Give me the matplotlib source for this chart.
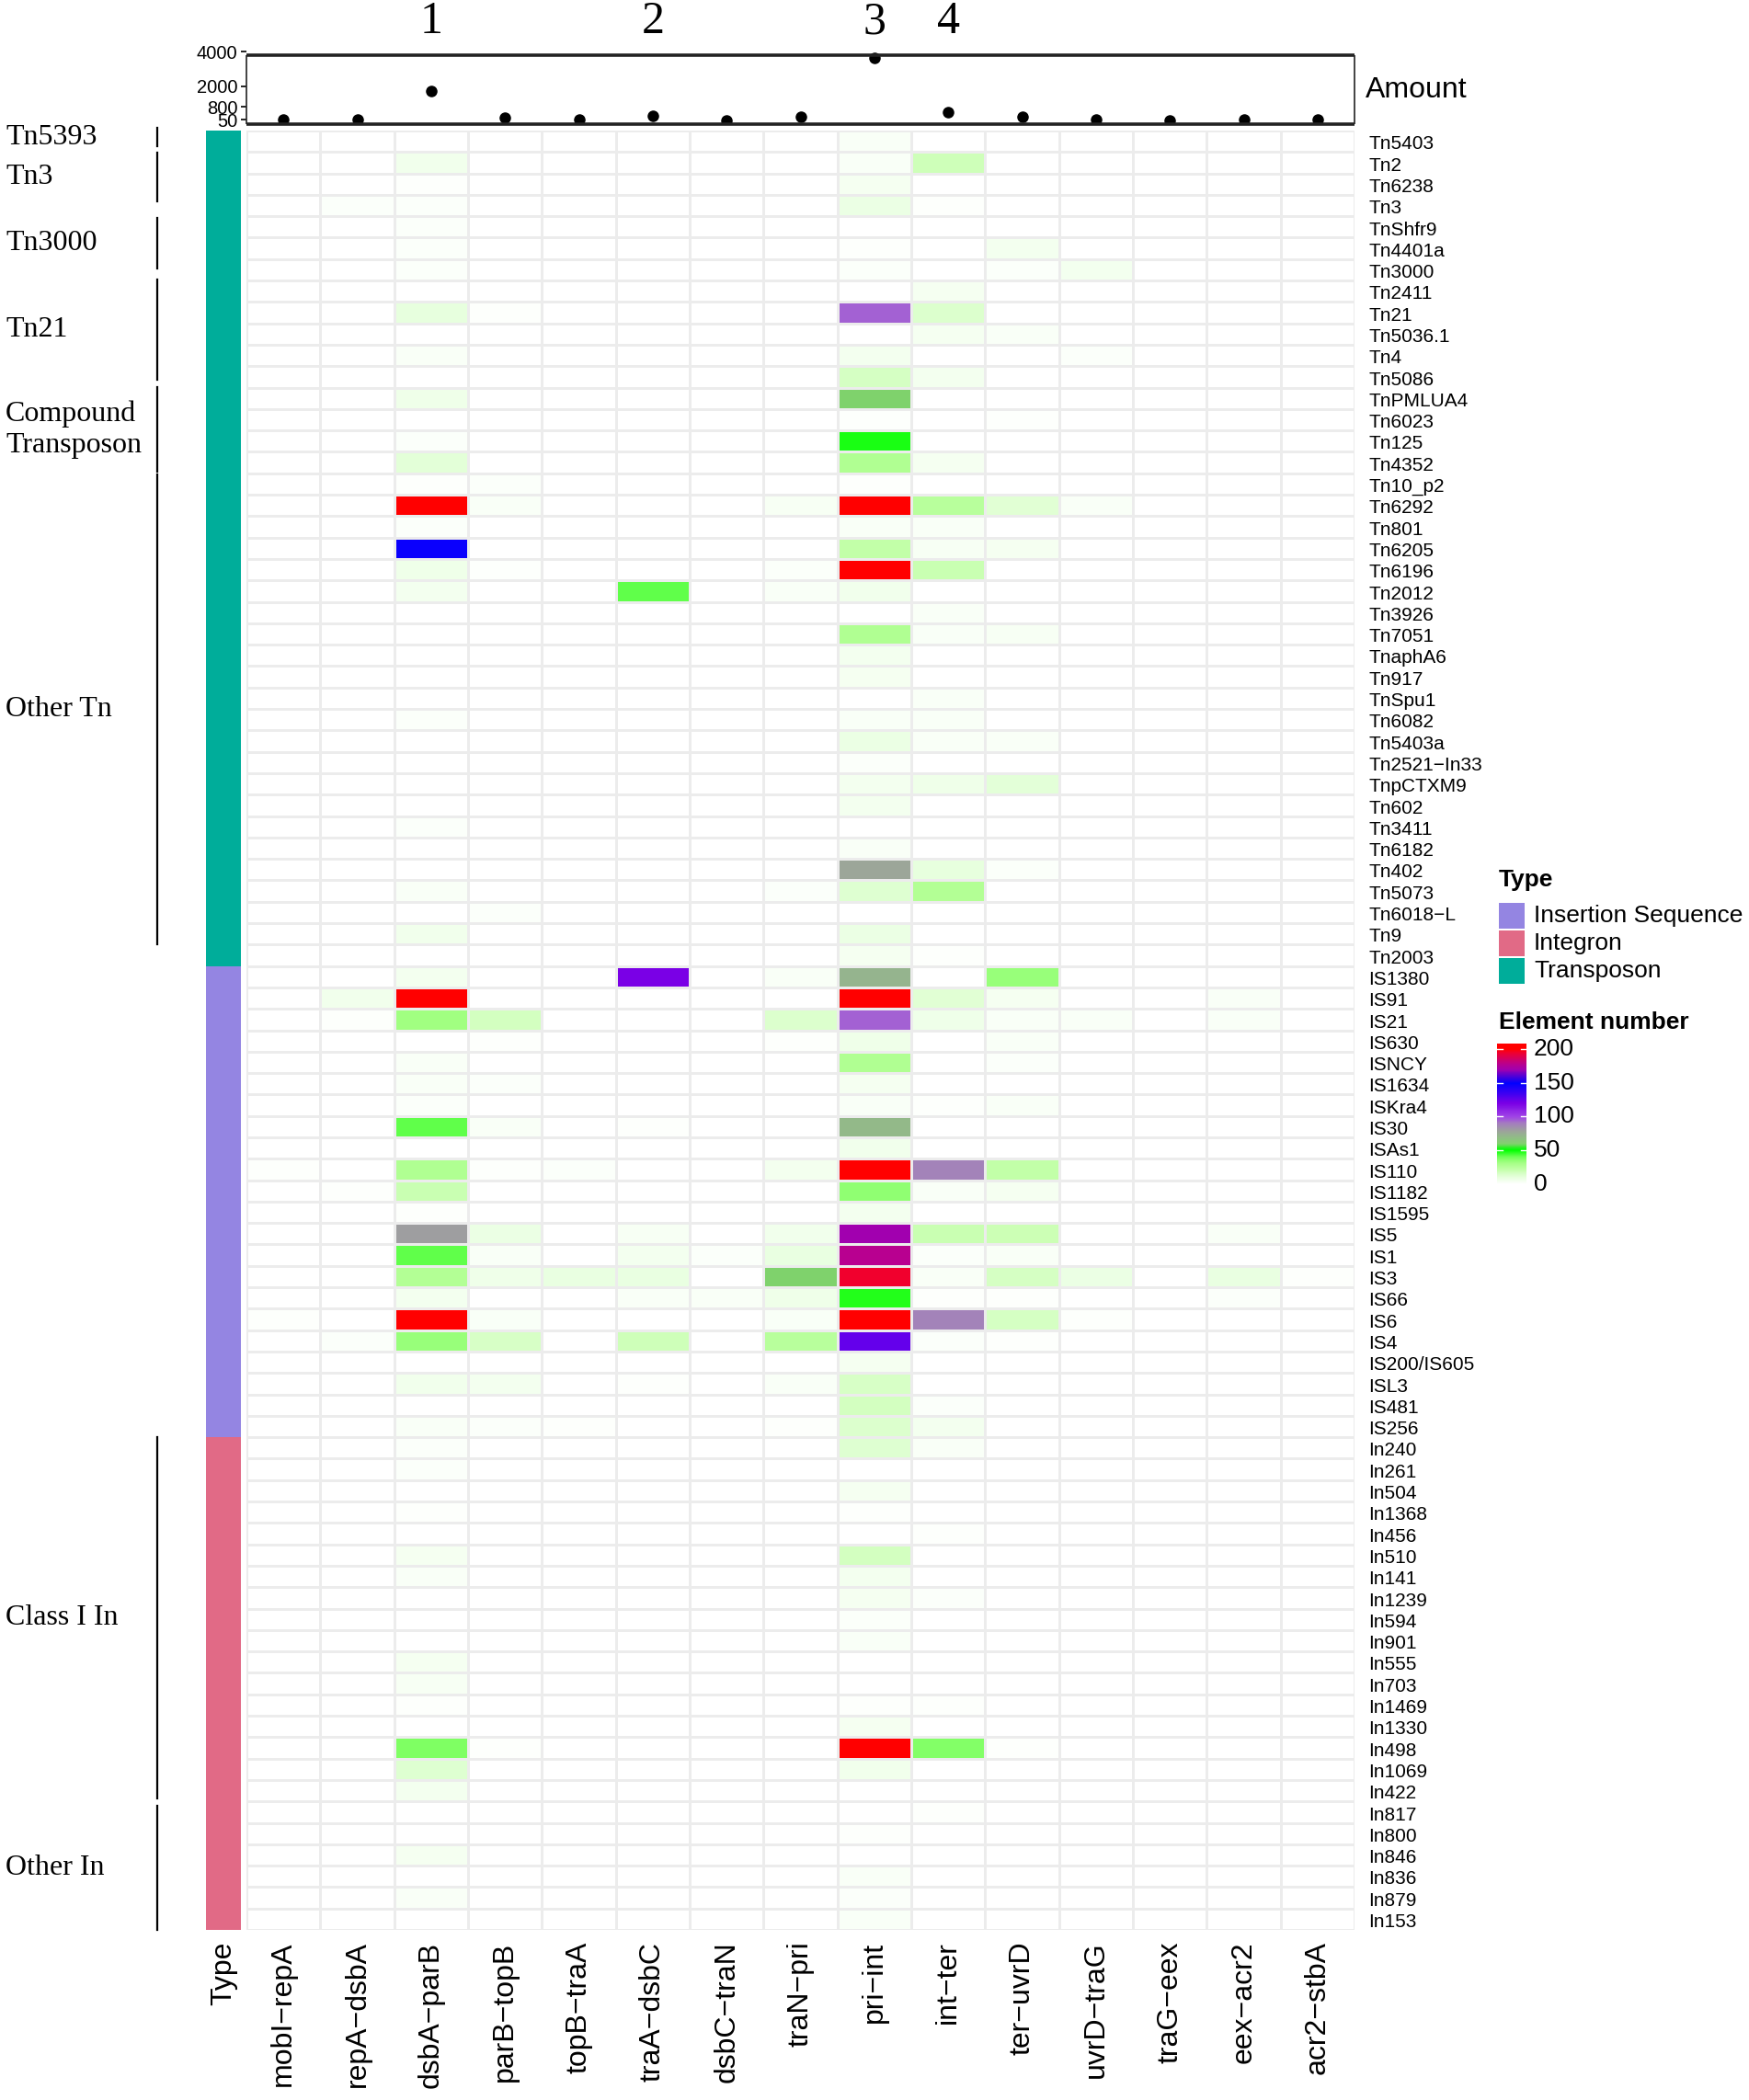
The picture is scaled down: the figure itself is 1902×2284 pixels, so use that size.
import numpy as np
import matplotlib
matplotlib.use('Agg')
import matplotlib.pyplot as plt
from matplotlib.colors import LinearSegmentedColormap, ListedColormap
from matplotlib.lines import Line2D
from matplotlib.patches import Rectangle

plt.rcParams['font.family'] = ['Liberation Sans', 'DejaVu Sans']

W, H = 1902, 2284

columns = ['mobI−repA', 'repA−dsbA', 'dsbA−parB', 'parB−topB', 'topB−traA',
           'traA−dsbC', 'dsbC−traN', 'traN−pri', 'pri−int', 'int−ter',
           'ter−uvrD', 'uvrD−traG', 'traG−eex', 'eex−acr2', 'acr2−stbA']

amount = [35, 35, 1700, 145, 40, 290, 30, 200, 3650, 480, 240, 50, 30, 50, 35]
amount_ticks = [50, 800, 2000, 4000]
numbered = {2: '1', 5: '2', 8: '3', 9: '4'}

tn_names = ['Tn5403', 'Tn2', 'Tn6238', 'Tn3', 'TnShfr9', 'Tn4401a', 'Tn3000', 'Tn2411',
            'Tn21', 'Tn5036.1', 'Tn4', 'Tn5086', 'TnPMLUA4', 'Tn6023', 'Tn125', 'Tn4352',
            'Tn10_p2', 'Tn6292', 'Tn801', 'Tn6205', 'Tn6196', 'Tn2012', 'Tn3926', 'Tn7051',
            'TnaphA6', 'Tn917', 'TnSpu1', 'Tn6082', 'Tn5403a', 'Tn2521−In33', 'TnpCTXM9',
            'Tn602', 'Tn3411', 'Tn6182', 'Tn402', 'Tn5073', 'Tn6018−L', 'Tn9', 'Tn2003']
is_names = ['IS1380', 'IS91', 'IS21', 'IS630', 'ISNCY', 'IS1634', 'ISKra4', 'IS30', 'ISAs1',
            'IS110', 'IS1182', 'IS1595', 'IS5', 'IS1', 'IS3', 'IS66', 'IS6', 'IS4',
            'IS200/IS605', 'ISL3', 'IS481', 'IS256']
in_names = ['In240', 'In261', 'In504', 'In1368', 'In456', 'In510', 'In141', 'In1239', 'In594',
            'In901', 'In555', 'In703', 'In1469', 'In1330', 'In498', 'In1069', 'In422', 'In817',
            'In800', 'In846', 'In836', 'In879', 'In153']

# element number per row, column order as in columns
tn_values = [
    [0, 0, 0, 0, 0, 0, 0, 0, 3, 0, 0, 0, 0, 0, 0],
    [0, 0, 6, 0, 0, 0, 0, 0, 3, 18, 0, 0, 0, 0, 0],
    [0, 0, 1, 0, 0, 0, 0, 0, 4, 0, 0.5, 0, 0, 0, 0],
    [0, 2, 2, 0, 0, 0, 0, 0, 8, 1, 0, 0, 0, 0, 0],
    [0, 0, 2, 0, 0, 0, 0, 0, 0, 0, 0, 0, 0, 0, 0],
    [0, 0, 2, 0, 0, 0, 0, 0, 1.5, 0, 5, 0, 0, 0, 0],
    [0, 0, 2, 0, 0, 0, 0, 0, 2, 0, 2, 5, 0, 0, 0],
    [0, 0, 0, 0, 0, 0, 0, 0, 0, 4, 0, 0, 0, 0, 0],
    [0, 0, 10, 1.5, 0, 0, 0, 0, 95, 14, 0, 0, 0, 0, 0],
    [0, 0, 0, 0, 0, 0, 0, 0, 0.5, 4, 3, 0, 0, 0, 0],
    [0, 0, 3, 0, 0, 0, 0, 0, 5, 0, 0, 2, 0, 0, 0],
    [0, 0, 0, 0, 0, 0, 0, 0, 16, 5, 0, 0, 0, 0, 0],
    [0, 0, 7, 0, 0, 0, 0, 0, 60, 0, 0, 0, 0, 0, 0],
    [0, 0, 0, 0, 0, 0, 0, 0, 1.5, 0, 1.5, 0, 0, 0, 0],
    [0, 0, 2, 0, 0, 0, 0, 0, 48, 0, 0, 0, 0, 0, 0],
    [0, 0, 11, 0, 0, 0, 0, 0, 28, 4, 0, 0, 0, 0, 0],
    [0, 0, 1, 2, 0, 0, 0, 0, 1.5, 0, 0, 0, 0, 0, 0],
    [0, 0, 200, 2.5, 0, 0, 0, 3.5, 200, 25, 12, 3, 0, 0.5, 0],
    [0, 0, 2, 0, 0, 0, 0, 0, 3, 2.5, 0, 0, 0, 0, 0],
    [0, 0, 147, 0, 0, 0, 0, 0, 22, 3.5, 4, 0, 0, 0, 0],
    [0, 0, 7, 1, 0, 0, 0, 2, 200, 20, 0, 0, 0, 0, 0],
    [0, 0, 5, 0, 0, 42, 0, 3, 6, 0, 0.5, 0, 0, 0.5, 0],
    [0, 0, 0, 0, 0, 0, 0, 0, 0, 2.5, 0, 0, 0, 0, 0],
    [0, 0, 0.5, 0, 0, 0, 0, 0, 28, 2.5, 3.5, 0, 0, 0, 0],
    [0, 0, 0, 0, 0, 0, 0, 0, 5, 0, 0, 0, 0, 0, 0],
    [0, 0, 0, 0, 0, 0, 0, 0, 4.5, 0, 0, 0, 0, 0, 0],
    [0, 0, 0, 0, 0, 0, 0, 0, 0, 3, 0.5, 0, 0, 0, 0],
    [0, 0, 2, 0, 0, 0, 0, 0, 3, 3, 0, 0, 0, 0, 0],
    [0, 0, 0, 0, 0, 0, 0, 0, 8, 2.5, 2.5, 0.5, 0, 0, 0],
    [0, 0, 0, 0, 0, 0, 0, 0, 2, 0, 0, 0, 0, 0, 0],
    [0, 0, 0.5, 0, 0, 0, 0, 0, 5, 7, 11, 0, 0, 0, 0],
    [0, 0, 0, 0, 0, 0, 0, 0, 5, 0, 0, 0, 0, 0, 0],
    [0, 0, 2, 0.7, 0, 0, 0, 0.4, 0, 0, 0, 0, 0, 0.4, 0],
    [0, 0, 0, 0, 0, 0, 0, 0, 3, 0, 0, 0, 0, 0, 0],
    [0, 0, 0, 0, 0, 0, 0, 0, 78, 10, 2, 0, 0, 0, 0],
    [0, 0, 3, 0, 0, 0, 0, 2, 13, 27, 0, 0, 0, 0, 0],
    [0, 0, 0, 2, 0, 0, 0, 0, 0, 0, 0.4, 0, 0, 0, 0],
    [0, 0, 6, 0, 0, 0, 0, 0, 8, 0, 0, 0, 0, 0, 0],
    [0, 0, 0, 0, 0, 0, 0, 0, 4.5, 1.5, 0, 0, 0, 0, 0],
]
is_values = [
    [0, 0, 5, 0, 0, 120, 0, 3, 72, 0, 33, 0, 0, 0, 0],
    [0, 6, 200, 0.5, 0, 0, 0, 0, 200, 12, 4, 0.5, 0, 3, 0],
    [0, 1, 32, 17, 0, 0, 0, 14, 95, 7, 3, 3, 0, 2.5, 0],
    [0, 0, 0.5, 1, 0, 0, 0.5, 1.5, 7, 0, 2.5, 0, 0, 0, 0],
    [0, 0, 2.5, 0, 0, 0, 0, 0, 28, 0, 2, 0, 0, 0, 0],
    [0, 0, 3, 2, 0, 0, 0, 0, 4, 0, 0, 0, 0, 0, 0],
    [0, 0, 2, 0, 0, 0, 0, 0, 3, 1.5, 3, 0, 0, 0, 0],
    [0, 0, 42, 3, 0, 1.5, 0, 0, 70, 0, 0, 0, 0, 0, 0],
    [0, 0, 0.5, 0, 0, 0, 0, 0.4, 6, 0, 0, 0, 0, 0, 0],
    [1, 0, 28, 1.5, 2, 0, 0, 5, 200, 88, 22, 0, 0, 0, 0],
    [0, 1.5, 20, 0.5, 0, 0, 0, 0, 35, 2.5, 4.5, 0, 0, 0, 0],
    [0, 0, 1, 0.5, 0, 0, 0, 0, 5, 0, 0, 0, 0, 0, 0],
    [0, 0, 80, 8, 0, 3.5, 0, 5.5, 170, 20, 19, 0, 0, 2.5, 0],
    [0, 0, 42, 3, 0, 5, 2, 9, 178, 2, 2.5, 0, 0, 0, 0],
    [0, 0.5, 27, 7, 9, 9, 0.7, 60, 195, 3, 16, 8, 0, 9, 1],
    [0, 0, 5, 0, 0, 2.5, 2.5, 7, 47, 1.5, 1.5, 0, 0, 2, 0],
    [1, 0, 200, 2.5, 0, 0, 0, 3, 200, 88, 16, 1.5, 0, 0, 0],
    [0, 2, 33, 15, 0, 18, 0, 25, 125, 2, 1.5, 0, 0, 0, 0],
    [0, 0, 0, 0, 0, 0, 0, 0, 4, 0, 0, 0, 0, 0, 0],
    [0, 0, 6, 5, 0, 1, 0, 3, 15, 0, 0, 0, 0, 0, 0],
    [0, 0, 0, 0, 0, 0, 0, 0, 17, 2, 0, 0, 0, 0, 0],
    [0, 0, 3, 2, 1, 0, 0, 1.5, 14, 5, 0, 0, 0, 0, 0],
]
in_values = [
    [0, 0, 2, 0, 0, 0, 0, 0, 13, 2.5, 0, 0, 0, 0, 0],
    [0, 0, 2, 0, 0, 0, 0, 0, 0, 0, 0, 0, 0, 0, 0],
    [0, 0, 0, 0, 0, 0, 0, 0, 4.5, 0, 0, 0, 0, 0, 0],
    [0, 0, 1.5, 0, 0, 0, 0, 0, 1.5, 0, 0, 0, 0, 0, 0],
    [0, 0, 0, 0, 0, 0, 0, 0, 0, 1, 0, 0, 0, 0, 0],
    [0, 0, 4.5, 0, 0, 0, 0, 0, 17, 0, 0, 0, 0, 0, 0],
    [0, 0, 3, 0, 0, 0, 0, 0.4, 5, 0, 0, 0, 0, 0, 0],
    [0, 0, 0, 0, 0, 0, 0, 0, 4, 2, 0, 0, 0, 0, 0],
    [0, 0, 0, 0, 0, 0, 0, 0, 2, 0, 0, 0, 0, 0, 0],
    [0, 0, 0, 0, 0, 0, 0, 0, 2.5, 0, 0, 0, 0, 0, 0],
    [0, 0, 4, 0, 0, 0, 0, 0, 0, 0, 0, 0, 0, 0, 0],
    [0, 0, 3.5, 0, 0, 0, 0, 0, 0, 0, 0, 0, 0, 0, 0],
    [0, 0, 1.5, 0, 0, 0, 0, 0, 1.5, 1.5, 0, 0, 0, 0, 0],
    [0, 0, 0, 0, 0, 0, 0, 0, 4, 0, 0, 0, 0, 0, 0],
    [0, 0, 38, 1, 0, 0, 0, 0, 200, 37, 1, 0, 0, 0, 0],
    [0, 0, 13, 0, 0, 0, 0, 0, 5.5, 0, 0, 0, 0, 0, 0],
    [0, 0, 5, 0, 0, 0, 0, 0, 0, 0, 0, 0, 0, 0, 0],
    [0, 0, 0, 0, 0, 0, 0, 0, 0, 1.2, 0.4, 0, 0, 0, 0],
    [0, 0, 0, 0, 0, 0, 0, 0.4, 1, 0, 0, 0, 0, 0, 0],
    [0, 0, 4, 0, 0, 0, 0, 0, 0, 0, 0, 0, 0, 0, 0],
    [0, 0, 0, 0, 0, 0, 0, 0, 3, 0, 0, 0, 0, 0, 0],
    [0, 0, 3, 0, 0, 0, 0, 0, 2, 0, 0.3, 0, 0, 0, 0],
    [0, 0, 0, 0, 0, 0, 0, 0, 3, 0, 0, 0, 0, 0, 0],
]

row_names = tn_names + is_names + in_names
values = np.array(tn_values + is_values + in_values, dtype=float)

type_labels = ['Insertion Sequence', 'Integron', 'Transposon']
type_colors = ['#9485E2', '#E16A86', '#00AD9A']
row_types = [2] * len(tn_names) + [0] * len(is_names) + [1] * len(in_names)

# group brackets on the far left: first row, last row (fractions of a row), text
groups = [('Tn5393', -0.13, 0.74), ('Tn3', 1.03, 3.29), ('Tn3000', 4.08, 6.43),
          ('Tn21', 6.95, 11.62), ('Compound\nTransposon', 11.98, 15.93),
          ('Other Tn', 16.05, 37.97), ('Class I In', 61.0, 77.87), ('Other In', 78.2, 84.0)]

level_stops = [0, 10, 20, 30, 40, 50, 60, 70, 78, 90, 100, 120, 150, 170, 178, 195, 200]
level_colors = ['#ffffff', '#e6ffdc', '#c8ffb0', '#a8ff88', '#72ff58', '#00ff00', '#84d070',
                '#93b98a', '#9ca59a', '#a57cc0', '#a044e6', '#7a00e6', '#0000ff', '#a000b0',
                '#b80090', '#f00030', '#ff0000']
level_cmap = LinearSegmentedColormap.from_list('levels', [(v / 200, c) for v, c in zip(level_stops, level_colors)])


def axes_px(x0, y0, x1, y1):
    # pixel box, measured from the top left of the picture
    return fig.add_axes([x0 / W, 1 - y1 / H, (x1 - x0) / W, (y1 - y0) / H])


fig = plt.figure(figsize=(W / 100, H / 100), dpi=100)

n_rows, n_cols = values.shape

# heatmap
ax = axes_px(268, 142, 1473, 2099)
ax.pcolormesh(np.arange(n_cols + 1), np.arange(n_rows + 1), values, cmap=level_cmap, vmin=0, vmax=200,
              edgecolors='#ececec', linewidth=0.9)
ax.set_xlim(0, n_cols)
ax.set_ylim(n_rows, 0)
for s in ax.spines.values():
    s.set_visible(False)
ax.yaxis.tick_right()
ax.set_yticks(np.arange(n_rows) + 0.55)
ax.set_yticklabels(row_names, fontsize=15)
ax.set_xticks(np.arange(n_cols) + 0.5)
ax.set_xticklabels(columns, fontsize=23, rotation=90)
ax.tick_params(length=0, pad=9, axis='x')
ax.tick_params(length=0, pad=11, axis='y')

# annotation strip
ax_type = axes_px(224, 142, 262, 2099)
ax_type.pcolormesh([0, 1], np.arange(n_rows + 1), np.array(row_types)[:, None], cmap=ListedColormap(type_colors))
ax_type.set_ylim(n_rows, 0)
for s in ax_type.spines.values():
    s.set_visible(False)
ax_type.set_yticks([])
ax_type.set_xticks([0.5])
ax_type.set_xticklabels(['Type'], fontsize=23, rotation=90)
ax_type.tick_params(length=0, pad=9, axis='x')

# amount panel on top, tick 4000 sits a little above the box
ax_top = axes_px(268, 56.4, 1473, 135)
ax_top.plot(np.arange(n_cols) + 0.5, amount, 'o', color='black', markersize=8)
ax_top.set_xlim(0, n_cols)
ax_top.set_ylim(-210, 4000)
for s in ax_top.spines.values():
    s.set_visible(False)
ax_top.patch.set_visible(False)
ax_top.set_xticks([])
ax_top.set_yticks(amount_ticks)
ax_top.set_yticklabels(amount_ticks, fontsize=14.5)
ax_top.tick_params(axis='y', length=4, width=1.2, pad=3)
ax_top.hlines([-210, 3790], 0, n_cols, color='#222222', linewidth=2.6, clip_on=False)
ax_top.vlines([0, n_cols], -210, 3790, color='#222222', linewidth=1.2, clip_on=False)

fig.text(1485 / W, 1 - 98 / H, 'Amount', fontsize=23, va='center')

for col, label in numbered.items():
    xpos = (268 + (col + 0.5) * 80.33) / W
    fig.text(xpos, 1 - 24 / H, label, fontsize=36, family='Liberation Serif', ha='center', va='center')

# group brackets and their labels
row_h = (2099 - 142) / n_rows
for name, start, stop in groups:
    y0, y1 = 142 + start * row_h, 142 + stop * row_h
    fig.add_artist(Line2D([171 / W, 171 / W], [1 - y0 / H, 1 - y1 / H], color='black', linewidth=1.6))
    fig.text(6 / W, 1 - (y0 + y1) / 2 / H, name, fontsize=23, family='Liberation Serif', va='center',
             linespacing=1.25)

# Type legend
fig.text(1630 / W, 1 - 957 / H, 'Type', fontsize=19, fontweight='bold', va='center')
for i, (label, color) in enumerate(zip(type_labels, type_colors)):
    y0 = 982 + i * 30
    fig.add_artist(Rectangle((1630 / W, 1 - (y0 + 28) / H), 28 / W, 28 / H, transform=fig.transFigure,
                             facecolor=color, edgecolor='none'))
    fig.text(1668 / W, 1 - (y0 + 14) / H, label, fontsize=19, va='center')

# Element number colour bar
fig.text(1630 / W, 1 - 1112 / H, 'Element number', fontsize=19, fontweight='bold', va='center')
ax_bar = axes_px(1628, 1135, 1660, 1288)
ax_bar.imshow(np.linspace(0, 208, 256)[:, None], cmap=level_cmap, vmin=0, vmax=200, origin='lower', aspect='auto',
              extent=(0, 1, 0, 208))
for s in ax_bar.spines.values():
    s.set_visible(False)
ax_bar.set_xticks([])
ax_bar.set_yticks([])
bar_ticks = [0, 50, 100, 150, 200]
for t in bar_ticks:
    if t > 0:
        ax_bar.plot([0, 0.2], [t, t], color='white', linewidth=1)
        ax_bar.plot([0.8, 1], [t, t], color='white', linewidth=1)
    ax_bar.text(1.25, t, str(t), fontsize=19, va='center', clip_on=False)
ax_bar.set_xlim(0, 1)
ax_bar.set_ylim(0, 208)

fig.savefig('out.png', dpi=100)
